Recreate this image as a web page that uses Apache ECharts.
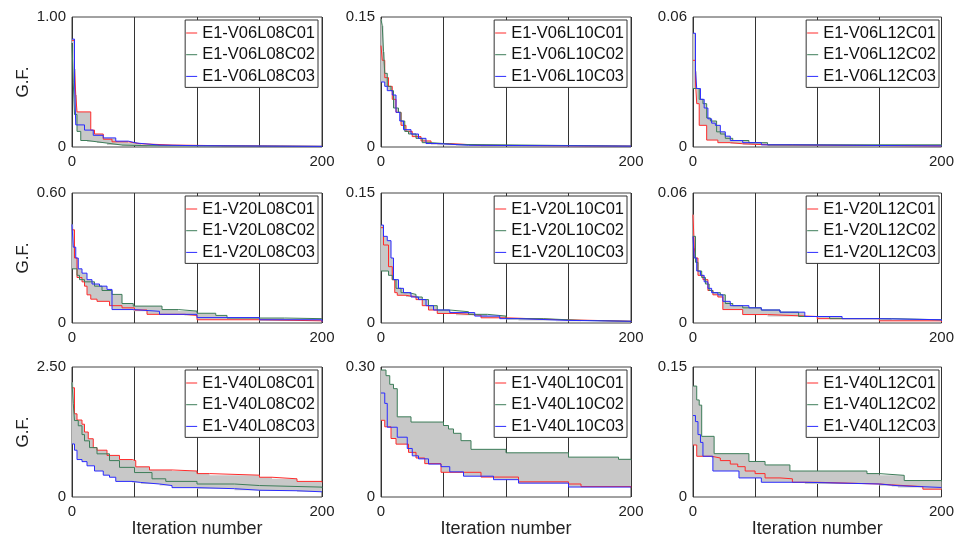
<!DOCTYPE html>
<html>
<head>
<meta charset="utf-8">
<script src="https://cdn.jsdelivr.net/npm/echarts@6/dist/echarts.min.js"></script>
<style>
    html, body, #main { width: 957px; height: 540px; margin: 0; background: #fff; }
</style>
</head>
<body>
<div id="main"></div>
<script>
var chart = echarts.init(document.getElementById('main'));

// panel order: row by row
var panelNames = ['V06L08', 'V06L10', 'V06L12', 'V20L08', 'V20L10', 'V20L12', 'V40L08', 'V40L10', 'V40L12'];
var runSuffix = ['C01', 'C02', 'C03'];
var yMax = [1.00, 0.15, 0.06, 0.60, 0.15, 0.06, 2.50, 0.30, 0.15];
var xMax = 200;
var xTickLabels = [0, 200];

// each panel: [C01 (red), C02 (green), C03 (blue)], points are [iteration, G.F.]
var V06L08 = [
    [[0,0.82],[2,0.6],[3,0.4],[4,0.27],[12,0.27],[15,0.13],[18,0.1],[25,0.06],[32,0.04],[45,0.025],[55,0.015],[80,0.01],[120,0.005],[200,0.003]],
    [[0,0.8],[1,0.5],[2,0.25],[4,0.12],[7,0.05],[12,0.04],[20,0.03],[28,0.015],[40,0.01],[60,0.005],[200,0.002]],
    [[0,0.83],[2,0.5],[3,0.17],[10,0.13],[17,0.09],[25,0.07],[35,0.045],[45,0.03],[52,0.015],[70,0.01],[100,0.005],[200,0.003]]
];
var V06L10 = [
    [[0,0.117],[1,0.1],[3,0.08],[6,0.07],[9,0.055],[12,0.04],[16,0.025],[20,0.018],[25,0.012],[32,0.007],[40,0.004],[55,0.002],[80,0.001],[200,0.0003]],
    [[0,0.147],[1,0.14],[2,0.11],[3,0.085],[5,0.07],[8,0.065],[10,0.045],[14,0.04],[16,0.03],[19,0.018],[22,0.015],[28,0.01],[33,0.005],[40,0.003],[60,0.001],[200,0.0005]],
    [[0,0.075],[3,0.07],[5,0.065],[9,0.06],[12,0.04],[15,0.03],[18,0.02],[24,0.015],[30,0.01],[36,0.004],[45,0.002],[70,0.001],[200,0.0003]]
];
var V06L12 = [
    [[0,0.04],[2,0.03],[3,0.02],[5,0.01],[11,0.0032],[20,0.002],[30,0.0015],[40,0.001],[60,0.0005],[200,0.0002]],
    [[0,0.027],[5,0.022],[8,0.02],[11,0.0134],[14,0.012],[19,0.007],[22,0.006],[26,0.004],[32,0.003],[45,0.002],[60,0.001],[200,0.0003]],
    [[0,0.0525],[2,0.035],[3,0.027],[6,0.022],[9,0.018],[12,0.013],[15,0.011],[18,0.01],[22,0.007],[26,0.005],[30,0.003],[40,0.002],[55,0.001],[80,0.0005],[200,0.0002]]
];
var V20L08 = [
    [[0,0.43],[2,0.3],[4,0.21],[8,0.19],[10,0.17],[12,0.13],[15,0.11],[20,0.1],[30,0.08],[40,0.07],[50,0.06],[60,0.04],[90,0.035],[100,0.015],[150,0.01],[200,0.005]],
    [[0,0.25],[4,0.22],[6,0.2],[10,0.19],[18,0.17],[24,0.15],[32,0.132],[40,0.09],[49,0.078],[72,0.062],[85,0.055],[100,0.045],[115,0.035],[124,0.023],[170,0.02],[200,0.017]],
    [[0,0.455],[1,0.35],[3,0.3],[5,0.25],[8,0.23],[12,0.2],[16,0.18],[22,0.17],[28,0.155],[32,0.062],[49,0.054],[70,0.04],[100,0.025],[150,0.015],[200,0.006]]
];
var V20L10 = [
    [[0,0.11],[2,0.09],[6,0.065],[9,0.05],[11,0.035],[13,0.032],[20,0.03],[28,0.027],[33,0.02],[38,0.015],[45,0.011],[60,0.009],[80,0.006],[100,0.004],[140,0.002],[200,0.001]],
    [[0,0.06],[6,0.055],[9,0.05],[12,0.04],[16,0.035],[22,0.033],[28,0.03],[33,0.027],[38,0.02],[45,0.015],[55,0.013],[70,0.01],[85,0.008],[100,0.005],[130,0.003],[160,0.002],[200,0.001]],
    [[0,0.113],[2,0.1],[5,0.095],[8,0.075],[10,0.05],[14,0.04],[18,0.035],[24,0.03],[30,0.027],[36,0.02],[42,0.015],[55,0.012],[75,0.008],[95,0.005],[110,0.003],[150,0.002],[200,0.001]]
];
var V20L12 = [
    [[0,0.05],[1,0.035],[2,0.03],[4,0.022],[8,0.02],[12,0.015],[16,0.013],[20,0.012],[24,0.0062],[40,0.0039],[60,0.003],[100,0.002],[150,0.001],[200,0.0005]],
    [[0,0.04],[2,0.028],[4,0.024],[7,0.021],[10,0.018],[13,0.015],[16,0.014],[22,0.013],[26,0.009],[32,0.008],[40,0.007],[55,0.006],[70,0.005],[85,0.003],[110,0.002],[160,0.0015],[200,0.001]],
    [[0,0.04],[1,0.03],[3,0.024],[6,0.022],[9,0.019],[12,0.016],[15,0.014],[20,0.013],[24,0.01],[30,0.008],[45,0.007],[55,0.006],[70,0.005],[90,0.003],[120,0.002],[150,0.0015],[200,0.001]]
];
var V40L08 = [
    [[0,2.1],[2,1.6],[4,1.48],[8,1.4],[10,1.25],[13,1.12],[17,0.95],[20,0.9],[28,0.8],[38,0.72],[48,0.7],[51,0.58],[62,0.52],[80,0.5],[100,0.45],[110,0.42],[150,0.38],[160,0.35],[180,0.3],[200,0.28]],
    [[0,2.2],[1,1.8],[2,1.47],[5,1.37],[8,1.2],[10,1.08],[14,0.95],[20,0.83],[30,0.7],[38,0.57],[50,0.47],[64,0.35],[75,0.3],[100,0.25],[130,0.22],[150,0.19],[200,0.17]],
    [[0,1.02],[2,0.9],[4,0.72],[8,0.68],[12,0.6],[18,0.5],[25,0.42],[30,0.38],[35,0.3],[48,0.28],[55,0.25],[70,0.22],[80,0.18],[100,0.16],[130,0.13],[150,0.12],[180,0.1],[200,0.09]]
];
var V40L10 = [
    [[0,0.177],[3,0.162],[8,0.135],[12,0.122],[22,0.103],[28,0.09],[35,0.077],[48,0.057],[80,0.046],[110,0.035],[150,0.03],[160,0.024],[200,0.022]],
    [[0,0.293],[4,0.28],[7,0.26],[10,0.25],[13,0.185],[24,0.173],[50,0.165],[54,0.157],[58,0.147],[64,0.13],[72,0.11],[100,0.102],[150,0.092],[190,0.087],[200,0.085]],
    [[0,0.24],[3,0.216],[5,0.161],[13,0.138],[21,0.112],[25,0.095],[30,0.088],[38,0.076],[48,0.07],[55,0.058],[66,0.048],[90,0.04],[110,0.032],[150,0.023],[200,0.022]]
];
var V40L12 = [
    [[0,0.06],[3,0.047],[15,0.045],[22,0.042],[30,0.038],[36,0.035],[42,0.03],[50,0.027],[58,0.022],[70,0.021],[80,0.017],[100,0.015],[150,0.014],[160,0.012],[185,0.009],[200,0.009]],
    [[0,0.128],[3,0.112],[5,0.106],[7,0.07],[17,0.05],[45,0.041],[58,0.037],[78,0.03],[140,0.027],[150,0.025],[170,0.019],[200,0.018]],
    [[0,0.094],[2,0.087],[4,0.072],[6,0.063],[8,0.047],[16,0.03],[37,0.022],[55,0.017],[90,0.015],[150,0.013],[165,0.011],[200,0.011]]
];
var panelRuns = [V06L08, V06L10, V06L12, V20L08, V20L10, V20L12, V40L08, V40L10, V40L12];

var runColors = ['#ff2b2b', '#3d7d59', '#2b2bff'];
var colLeft = [72, 381, 693];
var rowTop = [17, 193, 367];
var plotW = 250, plotH = 130;
// thin horizontal stroke as legend marker (the bare moveTo's keep the box 11x18)
var lineIcon = 'path://M0,0M11,18M0,8.5L11,8.5L11,9.5L0,9.5Z';

function valueAt(run, x) {
    var v = run[0][1];
    for (var i = 0; i < run.length; i++) {
        if (run[i][0] <= x) v = run[i][1];
    }
    return v;
}

// min / max band of the three runs
function envelope(runs) {
    var xs = [];
    runs.forEach(function (r) {
        r.forEach(function (p) { if (xs.indexOf(p[0]) < 0) xs.push(p[0]); });
    });
    xs.sort(function (a, b) { return a - b; });
    var lo = [], hi = [];
    xs.forEach(function (x) {
        var vals = runs.map(function (r) { return valueAt(r, x); });
        lo.push([x, Math.min.apply(null, vals)]);
        hi.push([x, Math.max.apply(null, vals)]);
    });
    return { lo: lo, hi: hi };
}

function stepped(pts) {
    var out = [];
    for (var i = 0; i < pts.length; i++) {
        out.push(pts[i]);
        if (i + 1 < pts.length) out.push([pts[i + 1][0], pts[i][1]]);
    }
    return out;
}

var grids = [], xAxes = [], yAxes = [], legends = [], series = [];

panelNames.forEach(function (pname, i) {
    var r = Math.floor(i / 3), c = i % 3;
    var names = runSuffix.map(function (s) { return 'E1-' + pname + s; });

    grids.push({
        left: colLeft[c], top: rowTop[r], width: plotW, height: plotH,
        show: true, borderColor: '#444', borderWidth: 1, backgroundColor: 'transparent'
    });
    xAxes.push({
        gridIndex: i, type: 'value', min: 0, max: xMax, interval: 50,
        axisLine: { show: false }, axisTick: { show: false },
        splitLine: { show: true, lineStyle: { color: '#333', width: 1 } },
        axisLabel: {
            fontSize: 15, color: '#222', margin: 7,
            formatter: function (v) { return xTickLabels.indexOf(v) >= 0 ? String(v) : ''; }
        },
        name: r === 2 ? 'Iteration number' : '',
        nameLocation: 'middle', nameGap: 20,
        nameTextStyle: { fontSize: 18, color: '#222' }
    });
    yAxes.push({
        gridIndex: i, type: 'value', min: 0, max: yMax[i], interval: yMax[i],
        axisLine: { show: false }, axisTick: { show: false }, splitLine: { show: false },
        axisLabel: {
            fontSize: 15, color: '#222', margin: 6,
            formatter: function (v) { return v === 0 ? '0' : v.toFixed(2); }
        },
        name: c === 0 ? 'G.F.' : '',
        nameLocation: 'middle', nameGap: 40,
        nameTextStyle: { fontSize: 17, color: '#222' }
    });
    legends.push({
        orient: 'vertical',
        right: 957 - (colLeft[c] + plotW) + 4, top: rowTop[r] + 3,
        data: names.map(function (n, k) {
            return { name: n, icon: lineIcon, itemStyle: { color: runColors[k], borderWidth: 0 } };
        }),
        itemWidth: 11, itemHeight: 18, itemGap: 3.7,
        padding: [4, 3, 2, 1],
        borderColor: '#333', borderWidth: 1, backgroundColor: '#fff',
        textStyle: { fontSize: 16.5, fontFamily: 'Liberation Sans', color: '#111' }
    });

    var env = envelope(panelRuns[i]);
    series.push({
        type: 'custom', xAxisIndex: i, yAxisIndex: i, silent: true, z: 1,
        data: [[0, 0]],
        renderItem: function (params, api) {
            var pts = stepped(env.hi).concat(stepped(env.lo).reverse());
            return {
                type: 'polygon',
                shape: { points: pts.map(function (p) { return api.coord(p); }) },
                style: { fill: '#c8c8c8', stroke: null }
            };
        }
    });
    panelRuns[i].forEach(function (run, k) {
        series.push({
            name: names[k], type: 'line', xAxisIndex: i, yAxisIndex: i,
            step: 'end', symbol: 'none', z: 3,
            lineStyle: { color: runColors[k], width: 1 },
            itemStyle: { color: runColors[k] },
            data: run
        });
    });
});

var option = {
    animation: false,
    textStyle: { fontFamily: 'Liberation Sans' },
    grid: grids,
    xAxis: xAxes,
    yAxis: yAxes,
    legend: legends,
    series: series
};
chart.setOption(option);
</script>
</body>
</html>
